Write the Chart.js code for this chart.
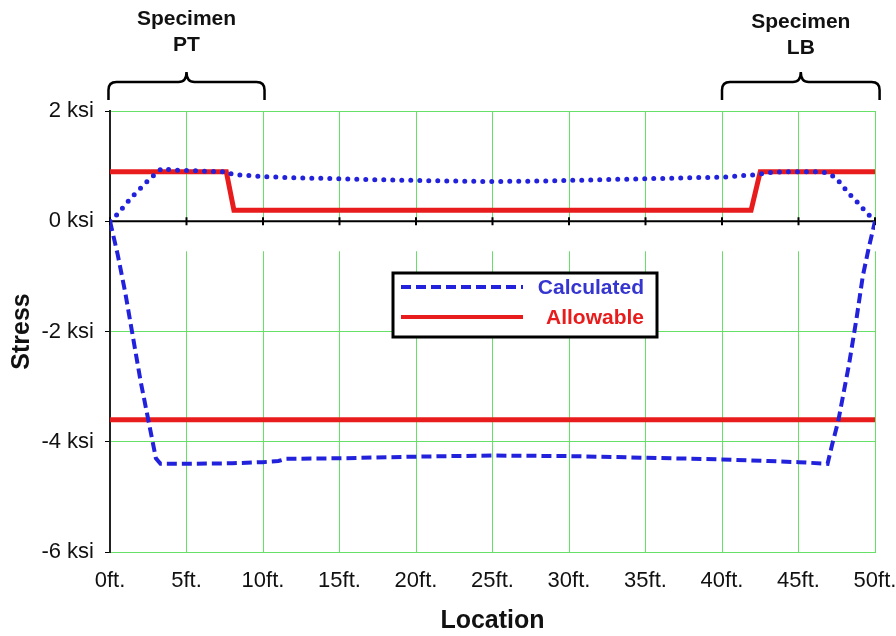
<!DOCTYPE html>
<html>
<head>
<meta charset="utf-8">
<script src="https://cdn.jsdelivr.net/npm/chart.js@4"></script>
<style>
  body { margin: 0; background: #fff; }
  #wrap { width: 896px; height: 636px; }
</style>
</head>
<body>
<div id="wrap"><canvas id="stressChart" width="896" height="636"></canvas></div>
<script>
// calculated stress, top chart (dotted)
const calcTopFt = [0, 0.5, 1, 1.5, 2, 2.5, 3, 3.4, 4, 5, 6, 7, 7.6, 8, 9, 10, 12, 15, 18, 20, 22, 25, 28, 30, 33, 35, 38, 40, 42, 43, 44, 45, 46, 46.8, 47.4, 47.8, 48.3, 48.9, 49.4, 50];
const calcTopKsi = [0, 0.13, 0.3, 0.46, 0.6, 0.74, 0.87, 0.96, 0.93, 0.92, 0.91, 0.9, 0.9, 0.85, 0.83, 0.81, 0.79, 0.77, 0.75, 0.74, 0.73, 0.72, 0.73, 0.74, 0.76, 0.77, 0.79, 0.8, 0.84, 0.88, 0.9, 0.9, 0.9, 0.88, 0.8, 0.67, 0.5, 0.33, 0.17, 0];

// calculated stress, bottom chart (dashed)
const calcBotFt = [0, 0.5, 1, 1.5, 2, 2.5, 3, 3.3, 5, 8, 10, 11, 11.5, 15, 20, 25, 30, 35, 40, 43, 45, 46.9, 47.2, 47.6, 48.3, 48.8, 49.2, 49.6, 50];
const calcBotKsi = [0, -0.6, -1.3, -2.1, -2.9, -3.6, -4.3, -4.4, -4.4, -4.39, -4.37, -4.35, -4.31, -4.3, -4.27, -4.25, -4.26, -4.29, -4.32, -4.35, -4.37, -4.4, -4.05, -3.62, -2.6, -1.75, -1.0, -0.47, 0];

// allowable stress
const allowTopFt = [0, 7.6, 8.1, 41.9, 42.5, 50];
const allowTopKsi = [0.9, 0.9, 0.2, 0.2, 0.9, 0.9];
const allowBotFt = [0, 50];
const allowBotKsi = [-3.6, -3.6];

const specimens = [
  { name: "PT", from: -0.1, to: 10.1 },
  { name: "LB", from: 40, to: 50.3 },
];

const BLUE = "#2222dd";
const RED = "#e81c1c";
const GREEN = "#66e066";
const FONT = "'Liberation Sans', Arial, sans-serif";

const zip = (xs, ys) => xs.map((x, i) => ({ x: x, y: ys[i] }));

const brace = (ctx, x1, x2, yEnd, yMid) => {
  const r = 8;
  const xc = (x1 + x2) / 2;
  ctx.beginPath();
  ctx.moveTo(x1, yEnd);
  ctx.lineTo(x1, yMid + r);
  ctx.quadraticCurveTo(x1, yMid, x1 + r, yMid);
  ctx.lineTo(xc - r, yMid);
  ctx.quadraticCurveTo(xc, yMid, xc, yMid - 10);
  ctx.quadraticCurveTo(xc, yMid, xc + r, yMid);
  ctx.lineTo(x2 - r, yMid);
  ctx.quadraticCurveTo(x2, yMid, x2, yMid + r);
  ctx.lineTo(x2, yEnd);
  ctx.stroke();
};

const extras = {
  id: "extras",
  beforeDatasetsDraw(chart) {
    const { ctx, chartArea, scales } = chart;
    const y0 = scales.y.getPixelForValue(0);
    ctx.save();
    // gap between the two stacked charts
    ctx.fillStyle = "#fff";
    ctx.fillRect(chartArea.left + 1, y0 + 2, chartArea.right - chartArea.left + 2, 28);
    // zero axis with ticks
    ctx.strokeStyle = "#000";
    ctx.lineWidth = 2;
    ctx.beginPath();
    ctx.moveTo(chartArea.left, y0);
    ctx.lineTo(chartArea.right, y0);
    for (let v = 0; v <= 50; v += 5) {
      const x = scales.x.getPixelForValue(v);
      ctx.moveTo(x, y0 - 4);
      ctx.lineTo(x, y0 + 4);
    }
    ctx.stroke();
    ctx.restore();
  },
  afterDraw(chart) {
    const { ctx, scales } = chart;
    ctx.save();
    // specimen braces
    ctx.strokeStyle = "#000";
    ctx.lineWidth = 2.5;
    ctx.fillStyle = "#111";
    ctx.font = "bold 21px " + FONT;
    ctx.textAlign = "center";
    ctx.textBaseline = "middle";
    specimens.forEach((s, i) => {
      const x1 = scales.x.getPixelForValue(s.from);
      const x2 = scales.x.getPixelForValue(s.to);
      brace(ctx, x1, x2, 100, 82);
      const xc = (x1 + x2) / 2;
      const dy = i === 0 ? 0 : 3;
      ctx.fillText("Specimen", xc, 19 + dy);
      ctx.fillText(s.name, xc, 45 + dy);
    });
    // legend box
    ctx.fillStyle = "#fff";
    ctx.fillRect(393, 273, 264, 64);
    ctx.lineWidth = 3;
    ctx.strokeRect(393, 273, 264, 64);
    ctx.lineWidth = 4;
    ctx.strokeStyle = BLUE;
    ctx.setLineDash([10, 5]);
    ctx.beginPath();
    ctx.moveTo(401, 287);
    ctx.lineTo(523, 287);
    ctx.stroke();
    ctx.setLineDash([]);
    ctx.strokeStyle = RED;
    ctx.lineWidth = 4;
    ctx.beginPath();
    ctx.moveTo(401, 317);
    ctx.lineTo(523, 317);
    ctx.stroke();
    ctx.textAlign = "right";
    ctx.fillStyle = "#3535d0";
    ctx.fillText("Calculated", 644, 288);
    ctx.fillStyle = RED;
    ctx.fillText("Allowable", 644, 318);
    ctx.restore();
  },
};

new Chart(document.getElementById("stressChart").getContext("2d"), {
  type: "scatter",
  data: {
    datasets: [
      {
        label: "Calculated",
        data: zip(calcTopFt, calcTopKsi),
        borderColor: BLUE,
        borderWidth: 5,
        borderDash: [0, 9],
        borderCapStyle: "round",
      },
      {
        label: "Calculated",
        data: zip(calcBotFt, calcBotKsi),
        borderColor: BLUE,
        borderWidth: 4,
        borderDash: [10, 5],
      },
      {
        label: "Allowable",
        data: zip(allowTopFt, allowTopKsi),
        borderColor: RED,
        borderWidth: 5,
      },
      {
        label: "Allowable",
        data: zip(allowBotFt, allowBotKsi),
        borderColor: RED,
        borderWidth: 5,
      },
    ].map((d) => ({ ...d, showLine: true, pointRadius: 0, tension: 0, fill: false })),
  },
  options: {
    responsive: false,
    devicePixelRatio: 1,
    animation: false,
    layout: { padding: { top: 111, right: 21, bottom: 0, left: 0 } },
    plugins: {
      legend: { display: false },
      tooltip: { enabled: false },
    },
    scales: {
      x: {
        type: "linear",
        min: 0,
        max: 50,
        afterFit: (scale) => {
          scale.height = 84;
          scale.paddingLeft = 0;
          scale.paddingRight = 0;
        },
        ticks: {
          stepSize: 5,
          padding: 16,
          color: "#111",
          font: { family: FONT, size: 22 },
          callback: (v) => v + "ft.",
        },
        grid: { color: GREEN, lineWidth: 1, drawTicks: false },
        border: { color: GREEN, width: 1 },
        title: {
          display: true,
          text: "Location",
          color: "#111",
          font: { family: FONT, size: 25, weight: "bold" },
          padding: { top: 0, bottom: 0 },
        },
      },
      y: {
        min: -6,
        max: 2,
        afterFit: (scale) => {
          scale.width = 110;
          scale.paddingTop = 0;
          scale.paddingBottom = 0;
        },
        ticks: {
          stepSize: 2,
          padding: 11,
          color: "#111",
          font: { family: FONT, size: 22 },
          callback: (v) => v + " ksi",
        },
        grid: { color: GREEN, lineWidth: 1, tickColor: "#000", tickLength: 5 },
        border: { color: "#222", width: 2 },
        title: {
          display: true,
          text: "Stress",
          color: "#111",
          font: { family: FONT, size: 25, weight: "bold" },
          padding: { top: 7, bottom: 7 },
        },
      },
    },
  },
  plugins: [extras],
});
</script>
</body>
</html>
